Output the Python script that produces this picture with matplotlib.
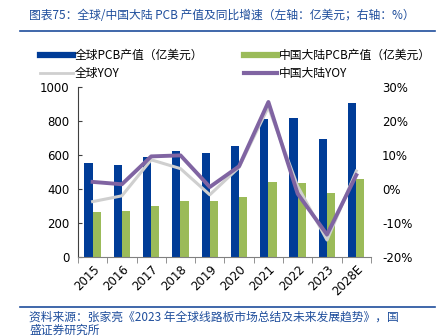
import numpy as np
import matplotlib.pyplot as plt
from matplotlib.lines import Line2D

plt.rcParams['font.family'] = ['DejaVu Sans', 'Noto Sans CJK SC']

# 数据
years = ['2015', '2016', '2017', '2018', '2019', '2020', '2021', '2022', '2023', '2028E']
global_pcb = [553, 542, 588, 624, 613, 652, 809, 817, 695, 904]
china_pcb = [267, 271, 298, 327, 329, 353, 441, 435, 376, 461]
global_yoy = [-3.7, -2.0, 8.6, 6.0, -1.7, 6.4, 24.1, 0.8, -15.0, 5.3]
china_yoy = [2.1, 1.4, 9.6, 9.9, 0.6, 6.7, 25.6, -1.4, -13.4, 4.1]

c_blue = '#003C97'
c_green = '#9BBB59'
c_gray = '#CFCFCF'
c_purple = '#8064A2'
c_title = '#1F4E9C'

fig = plt.figure(figsize=(4.48, 3.36), dpi=100)
ax = fig.add_axes([0.174, 0.235, 0.654, 0.506])
ax2 = ax.twinx()

x = np.arange(len(years))
w = 0.28
ax.bar(x - w / 2, global_pcb, w, color=c_blue, zorder=2)
ax.bar(x + w / 2, china_pcb, w, color=c_green, zorder=2)

ax2.plot(x, global_yoy, color=c_gray, lw=2.2, zorder=3)
ax2.plot(x, china_yoy, color=c_purple, lw=2.8, zorder=4)

ax.set_xlim(-0.5, len(years) - 0.5)
ax.set_ylim(0, 1000)
ax.set_yticks(range(0, 1001, 200))
ax2.set_ylim(-20, 30)
ax2.set_yticks(range(-20, 31, 10))
ax2.set_yticklabels([f'{v}%' for v in range(-20, 31, 10)])

ax.set_xticks(x)
ax.set_xticklabels(years, rotation=45, ha='right', rotation_mode='anchor', fontsize=8.5)
ax.set_xticks(np.arange(-0.5, len(years), 1), minor=True)
ax.tick_params(axis='x', which='major', length=0, pad=4)
ax.tick_params(axis='x', which='minor', length=4, direction='out', color='#808080')
ax.tick_params(axis='y', labelsize=8.5, length=3, direction='in', color='#404040', pad=6)
ax2.tick_params(axis='y', labelsize=8.5, length=0, pad=8)

for s in ['top', 'right']:
    ax.spines[s].set_visible(False)
for s in ['top', 'right', 'left', 'bottom']:
    ax2.spines[s].set_visible(False)
ax.spines['left'].set_color('#404040')
ax.spines['bottom'].set_color('#808080')

handles = [
    Line2D([], [], color=c_blue, lw=4.5),
    Line2D([], [], color=c_gray, lw=2),
    Line2D([], [], color=c_green, lw=4.5),
    Line2D([], [], color=c_purple, lw=3),
]
labels = ['全球PCB产值（亿美元）', '全球YOY', '中国大陆PCB产值（亿美元）', '中国大陆YOY']
fig.legend(handles, labels, ncol=2, loc='upper left', bbox_to_anchor=(0.065, 0.885),
           frameon=False, handlelength=2.8, handletextpad=0.2,
           columnspacing=3.4, labelspacing=0.4,
           prop={'family': ['Noto Sans CJK SC'], 'size': 8.5})

# 标题与来源
fig.text(0.065, 0.955, '图表75：全球/中国大陆 PCB 产值及同比增速（左轴：亿美元；右轴：%）',
         color=c_title, fontsize=8.5, style='italic', va='center',
         family=['Noto Sans CJK SC', 'DejaVu Sans'])
fig.add_artist(Line2D([0.045, 0.97], [0.908, 0.908], color=c_title, lw=1.2))
fig.add_artist(Line2D([0.045, 0.97], [0.087, 0.087], color=c_title, lw=1.2))
fig.text(0.065, 0.057, '资料来源：张家亮《2023 年全球线路板市场总结及未来发展趋势》，国',
         color=c_title, fontsize=8.5, style='italic', va='center',
         family=['Noto Sans CJK SC', 'DejaVu Sans'])
fig.text(0.065, 0.018, '盛证券研究所',
         color=c_title, fontsize=8.5, style='italic', va='center',
         family=['Noto Sans CJK SC', 'DejaVu Sans'])

fig.savefig('out.png', dpi=100)
